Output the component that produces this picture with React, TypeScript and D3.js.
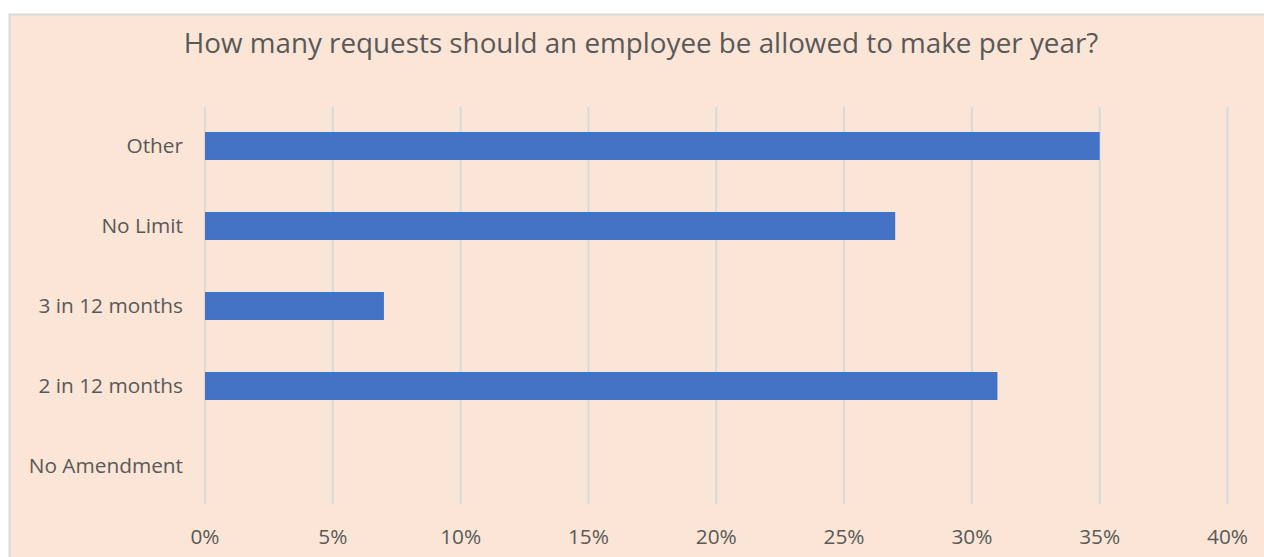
import React from "react";
import * as d3 from "d3";

const categories = ["Other", "No Limit", "3 in 12 months", "2 in 12 months", "No Amendment"];
const values = [35, 27, 7, 31, 0];
const ticks = [0, 5, 10, 15, 20, 25, 30, 35, 40];
const title = "How many requests should an employee be allowed to make per year?";

export default function App() {
  const W = 1264, H = 557;
  const x = d3.scaleLinear().domain([0, 40]).range([205, 1227.5]);
  const y = d3.scaleBand<string>().domain(categories).range([106, 506]).paddingInner(0.65).paddingOuter(0.325);
  const font = "'Open Sans', sans-serif";
  const textColor = "#595959";
  return (
    <svg width={W} height={H} style={{ position: "absolute", left: 0, top: 0 }}>
      <rect x={9.5} y={14.5} width={W} height={H} fill="#FBE5D6" stroke="#D9D9D9" strokeWidth={2} />
      <text x={641} y={53} textAnchor="middle" fontFamily={font} fontSize={27.8} fill={textColor}>{title}</text>
      {ticks.map((t) => (
        <line key={"g" + t} x1={x(t)} x2={x(t)} y1={107} y2={504} stroke="#D9D9D9" strokeWidth={2} />
      ))}
      {categories.map((c, i) => (
        <rect key={c} x={x(0)} y={y(c)} width={x(values[i]) - x(0)} height={y.bandwidth()} fill="#4472C4" />
      ))}
      {categories.map((c) => (
        <text key={"l" + c} x={183} y={(y(c) as number) + y.bandwidth() / 2} dy="0.35em" textAnchor="end" fontFamily={font} fontSize={20.8} fill={textColor}>{c}</text>
      ))}
      {ticks.map((t) => (
        <text key={"t" + t} x={x(t)} y={544} textAnchor="middle" fontFamily={font} fontSize={20.8} fill={textColor}>{t + "%"}</text>
      ))}
    </svg>
  );
}
